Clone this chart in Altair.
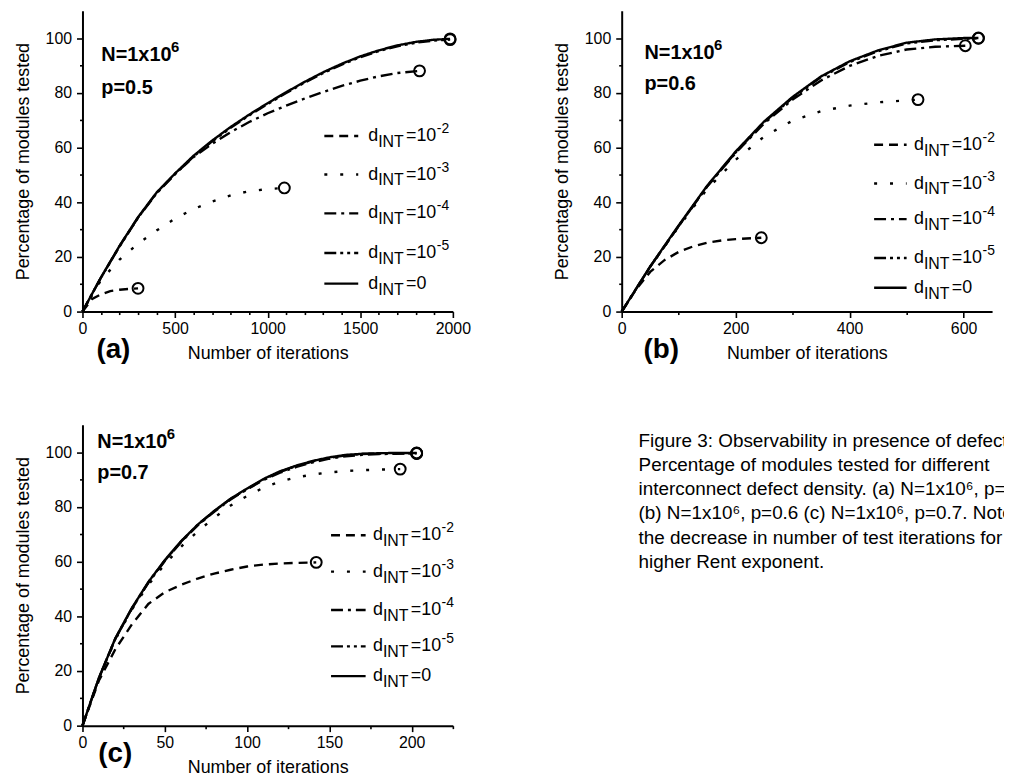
import altair as alt
import pandas as pd

FONT = "Liberation Sans"

SERIES = ["1e-2", "1e-3", "1e-4", "1e-5", "0"]
EXPONENTS = ["-2", "-3", "-4", "-5", ""]
DASHES = [[9, 6], [3, 13], [12, 5, 3, 5], [12, 4, 3, 4, 3, 4], [1, 0]]

# ---------------- panel (a): N=1e6, p=0.5 ----------------
A_X_E2 = [0, 50, 100, 150, 200, 250, 300]
A_Y_E2 = [0, 4.5, 6.3, 7.5, 8.0, 8.3, 8.5]
A_X_E3 = [0, 100, 200, 300, 400, 500, 600, 700, 800, 900, 1000, 1090]
A_Y_E3 = [0, 11.5, 19.0, 24.8, 29.6, 34.0, 37.5, 40.2, 42.5, 44.0, 44.8, 45.2]
A_X_E4 = [0, 100, 200, 300, 400, 500, 600, 700, 800, 900, 1000, 1100, 1200,
          1300, 1400, 1500, 1600, 1700, 1820]
A_Y_E4 = [0, 12.4, 23.9, 34.4, 43.4, 50.4, 56.5, 61.3, 65.6, 69.3, 72.5, 75.3,
          77.9, 80.3, 82.5, 84.4, 86.0, 87.2, 88.0]
A_X_E5 = [0, 100, 200, 300, 400, 500, 600, 700, 800, 900, 1000, 1100, 1200,
          1300, 1400, 1500, 1600, 1700, 1800, 1900, 1985]
A_Y_E5 = [0, 12.4, 23.8, 34.3, 43.2, 50.2, 56.7, 62.2, 67.2, 71.7, 75.9, 79.9,
          83.7, 87.2, 90.3, 93.0, 95.2, 97.0, 98.3, 99.1, 99.4]
A_X_0 = [0, 100, 200, 300, 400, 500, 600, 700, 800, 900, 1000, 1100, 1200,
         1300, 1400, 1500, 1600, 1700, 1800, 1900, 1985]
A_Y_0 = [0, 12.5, 24.0, 34.5, 43.5, 50.5, 57.0, 62.5, 67.5, 72.0, 76.2, 80.2,
         84.0, 87.5, 90.6, 93.3, 95.5, 97.3, 98.6, 99.4, 99.7]

# ---------------- panel (b): N=1e6, p=0.6 ----------------
B_X_E2 = [0, 25, 50, 75, 100, 125, 150, 175, 200, 245]
B_Y_E2 = [0, 8.0, 14.5, 18.8, 21.8, 23.8, 25.2, 26.0, 26.5, 27.0]
B_X_E3 = [0, 50, 100, 150, 200, 250, 300, 350, 400, 450, 500, 520]
B_Y_E3 = [0, 16.3, 31.0, 44.8, 55.5, 64.0, 69.8, 73.3, 75.3, 76.5, 77.2, 77.5]
B_X_E4 = [0, 50, 100, 150, 200, 250, 300, 350, 400, 450, 500, 550, 603]
B_Y_E4 = [0, 16.4, 31.3, 45.7, 58.0, 68.8, 77.5, 84.5, 89.8, 93.5, 95.8, 96.8, 97.2]
B_X_E5 = [0, 50, 100, 150, 200, 250, 300, 350, 400, 450, 500, 550, 600, 626]
B_Y_E5 = [0, 16.4, 31.3, 45.8, 58.2, 69.2, 78.2, 85.7, 91.2, 95.2, 98.0, 99.2, 99.7, 99.9]
B_X_0 = [0, 50, 100, 150, 200, 250, 300, 350, 400, 450, 500, 550, 600, 626]
B_Y_0 = [0, 16.5, 31.5, 46.0, 58.5, 69.5, 78.5, 86.0, 91.5, 95.5, 98.3, 99.5, 100.0, 100.0]

# ---------------- panel (c): N=1e6, p=0.7 ----------------
C_X_E2 = [0, 10, 20, 30, 40, 50, 60, 70, 80, 90, 100, 110, 120, 130, 142]
C_Y_E2 = [0, 16.5, 28.0, 37.0, 44.5, 48.8, 51.5, 53.8, 55.6, 57.0, 58.2, 58.9,
          59.3, 59.5, 59.7]
C_X_E3 = [0, 10, 20, 30, 40, 50, 60, 70, 80, 90, 100, 110, 120, 130, 140, 150,
          160, 170, 180, 193]
C_Y_E3 = [0, 17.3, 31.5, 42.5, 51.5, 59.0, 65.5, 71.0, 76.0, 80.5, 84.0, 87.0,
          89.2, 90.8, 91.8, 92.6, 93.1, 93.4, 93.6, 93.8]
C_X_E4 = [0, 10, 20, 30, 40, 50, 60, 70, 80, 90, 100, 110, 120, 130, 140, 150,
          160, 170, 180, 190, 203]
C_Y_E4 = [0, 17.4, 31.8, 42.8, 52.2, 60.2, 67.2, 73.2, 78.2, 82.7, 86.4, 89.8,
          92.5, 94.6, 96.3, 97.6, 98.5, 99.0, 99.3, 99.4, 99.5]
C_X_E5 = [0, 10, 20, 30, 40, 50, 60, 70, 80, 90, 100, 110, 120, 130, 140, 150,
          160, 170, 180, 190, 203]
C_Y_E5 = [0, 17.4, 31.9, 42.9, 52.4, 60.4, 67.4, 73.4, 78.4, 82.9, 86.6, 90.0,
          92.8, 94.9, 96.6, 97.9, 98.8, 99.3, 99.5, 99.6, 99.6]
C_X_0 = [0, 10, 20, 30, 40, 50, 60, 70, 80, 90, 100, 110, 120, 130, 140, 150,
         160, 170, 180, 190, 203]
C_Y_0 = [0, 17.5, 32.0, 43.0, 52.5, 60.5, 67.5, 73.5, 78.5, 83.0, 86.7, 90.2,
         93.0, 95.1, 96.8, 98.1, 99.0, 99.4, 99.6, 99.7, 99.7]

CAPTION = [
    "Figure 3: Observability in presence of defects.",
    "Percentage of modules tested for different",
    "interconnect defect density. (a) N=1x10\u2076, p=0.5",
    "(b) N=1x10\u2076, p=0.6 (c) N=1x10\u2076, p=0.7. Note",
    "the decrease in number of test iterations for",
    "higher Rent exponent.",
]

PANELS = [
    dict(curves=[(A_X_E2, A_Y_E2), (A_X_E3, A_Y_E3), (A_X_E4, A_Y_E4), (A_X_E5, A_Y_E5), (A_X_0, A_Y_0)],
         xmax=2000, xminor=100, xmajor=500, p="p=0.5", letter="(a)",
         leg=dict(x0=1306, x1=1489, tx=1543, rows=[64.2, 50.1, 35.9, 21.4, 10.2]),
         note=dict(x=102, y1=91.5, y2=79.5), tdx=14, toff=-26),
    dict(curves=[(B_X_E2, B_Y_E2), (B_X_E3, B_Y_E3), (B_X_E4, B_Y_E4), (B_X_E5, B_Y_E5), (B_X_0, B_Y_0)],
         xmax=650, xminor=100, xmajor=200, p="p=0.6", letter="(b)",
         leg=dict(x0=443, x1=500, tx=513, rows=[61.0, 46.8, 33.8, 19.6, 8.7]),
         note=dict(x=40, y1=92.5, y2=81.0), tdx=22, toff=-26),
    dict(curves=[(C_X_E2, C_Y_E2), (C_X_E3, C_Y_E3), (C_X_E4, C_Y_E4), (C_X_E5, C_Y_E5), (C_X_0, C_Y_0)],
         xmax=225, xminor=25, xmajor=50, p="p=0.7", letter="(c)",
         leg=dict(x0=151, x1=172, tx=176.5, rows=[69.6, 56.3, 42.3, 29.0, 18.1]),
         note=dict(x=9, y1=101.5, y2=90.0), tdx=16, toff=-36),
]

W, H = 373, 303


def make_panel(cfg):
    xs = alt.Scale(domain=[0, cfg["xmax"]], nice=False, zero=True)
    ys = alt.Scale(domain=[0, 110], nice=False)
    rows = []
    for key, (xx, yy) in zip(SERIES, cfg["curves"]):
        for a, b in zip(xx, yy):
            rows.append({"s": key, "x": a, "y": b})
    df = pd.DataFrame(rows)
    ends = df.groupby("s", sort=False).tail(1).reset_index(drop=True)

    mj = cfg["xmajor"]
    xvals = list(range(0, cfg["xmax"] + 1, cfg["xminor"]))
    xaxis = alt.Axis(
        values=xvals, title="Number of iterations", format="d",
        labelExpr=f"datum.value % {mj} === 0 ? datum.label : ''",
        tickSize={"condition": {"test": f"datum.value % {mj} === 0", "value": 6}, "value": 3},
        labelFlush=False, labelOverlap=False, labelPadding=3, titlePadding=8,
    )
    yaxis = alt.Axis(
        values=list(range(0, 101, 10)), title="Percentage of modules tested", format="d",
        labelExpr="datum.value % 20 === 0 ? datum.label : ''",
        tickSize={"condition": {"test": "datum.value % 20 === 0", "value": 6}, "value": 3},
        labelFlush=False, labelOverlap=False, labelPadding=5, titlePadding=13,
    )
    dash = alt.StrokeDash("s:N", scale=alt.Scale(domain=SERIES, range=DASHES), legend=None)

    X = lambda f: alt.X(f, scale=xs, axis=xaxis)
    Y = lambda f: alt.Y(f, scale=ys, axis=yaxis)

    lines = alt.Chart(df).mark_line(color="black", strokeWidth=2.4).encode(
        x=X("x:Q"), y=Y("y:Q"), strokeDash=dash, order="x:Q")
    circles = alt.Chart(ends).mark_point(shape="circle", filled=False, color="black",
                                         size=120, strokeWidth=2, opacity=1).encode(
        x=X("x:Q"), y=Y("y:Q"))

    lg = cfg["leg"]
    leg_df = pd.DataFrame({
        "s": SERIES,
        "x": [lg["x0"]] * 5, "x2": [lg["x1"]] * 5, "tx": [lg["tx"]] * 5,
        "y": lg["rows"],
        "d": ["d"] * 5, "sub": ["INT"] * 5,
        "eq": ["=10" if e else "=0" for e in EXPONENTS], "sup": EXPONENTS,
    })
    leg_lines = alt.Chart(leg_df).mark_rule(color="black", strokeWidth=2.4).encode(
        x=X("x:Q"), x2="x2:Q", y=Y("y:Q"), strokeDash=dash)
    leg_layers = []
    for field, fs, dx, dy in [("d", 18, 0, 5), ("sub", 16, 10, 11), ("eq", 18, 38, 5), ("sup", 14, 69, -3)]:
        leg_layers.append(
            alt.Chart(leg_df).mark_text(align="left", baseline="alphabetic", dx=dx, dy=dy,
                                        fontSize=fs, font=FONT, color="black").encode(
                x=X("tx:Q"), y=Y("y:Q"), text=f"{field}:N"))

    nt = cfg["note"]
    note_df = pd.DataFrame({"x": [nt["x"]], "y1": [nt["y1"]], "y2": [nt["y2"]],
                            "l1": ["N=1x10"], "e": ["6"], "l2": [cfg["p"]]})
    n1 = alt.Chart(note_df).mark_text(align="left", baseline="alphabetic", fontSize=20,
                                      fontWeight="bold", font=FONT, color="black").encode(
        x=X("x:Q"), y=Y("y1:Q"), text="l1:N")
    n2 = alt.Chart(note_df).mark_text(align="left", baseline="alphabetic", fontSize=15, dx=70, dy=-9,
                                      fontWeight="bold", font=FONT, color="black").encode(
        x=X("x:Q"), y=Y("y1:Q"), text="e:N")
    n3 = alt.Chart(note_df).mark_text(align="left", baseline="alphabetic", fontSize=20,
                                      fontWeight="bold", font=FONT, color="black").encode(
        x=X("x:Q"), y=Y("y2:Q"), text="l2:N")

    return alt.layer(lines, circles, leg_lines, *leg_layers, n1, n2, n3).properties(
        width=W, height=H,
        title=alt.TitleParams(text=cfg["letter"], orient="bottom", anchor="start", frame="group",
                              offset=cfg["toff"], dx=cfg["tdx"], fontSize=28, fontWeight="bold",
                              font=FONT, color="black", baseline="top"),
    )


LINE_GAP = 24.4
cap_df = pd.DataFrame({"row": list(range(len(CAPTION))), "text": CAPTION})
top = -22 / LINE_GAP
caption = alt.Chart(cap_df).mark_text(align="left", baseline="alphabetic", fontSize=19,
                                      font=FONT, color="black", clip=True).encode(
    x=alt.value(17),
    y=alt.Y("row:Q", scale=alt.Scale(domain=[top, top + H / LINE_GAP], reverse=True, nice=False, zero=False),
            axis=None),
    text="text:N",
).properties(width=385, height=H)

panels = [make_panel(c) for c in PANELS]

chart = alt.concat(
    panels[0], panels[1], panels[2], caption,
    columns=2, spacing=alt.RowColnumber(row=114, column=170), bounds="flush", align="each",
).properties(
    padding={"left": 6, "top": 0, "right": 0, "bottom": 0},
    background="white",
).configure_view(stroke=None).configure_axis(
    domainColor="black", domainWidth=2, tickColor="black", tickWidth=1.6,
    labelColor="black", titleColor="black", labelFont=FONT, titleFont=FONT,
    labelFontSize=16, titleFontSize=18, titleFontWeight="normal", grid=False,
)

chart.save("out.html", embed_options={"renderer": "svg", "actions": False})
